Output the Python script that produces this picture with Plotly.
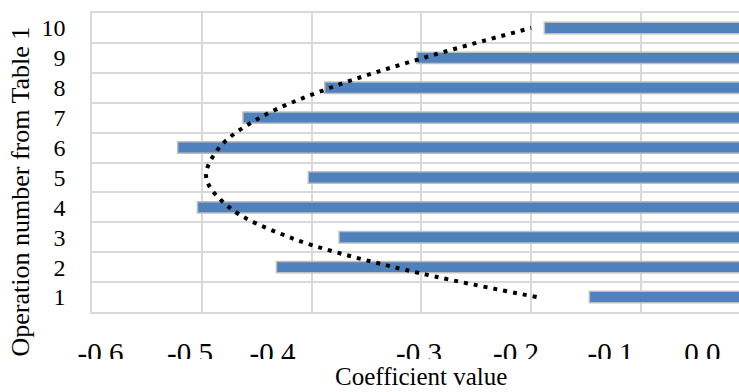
import plotly.graph_objects as go

# ---- data ----
operations = [1, 2, 3, 4, 5, 6, 7, 8, 9, 10]
coef_values = [-0.147, -0.432, -0.375, -0.504, -0.403, -0.522, -0.4625, -0.388, -0.304, -0.188]
trend_values = [-0.195, -0.325, -0.420, -0.475, -0.496, -0.484, -0.447, -0.383, -0.298, -0.200]
x_tick_labels = ["-0.6", "-0.5", "-0.4", "-0.3", "-0.2", "-0.1", "0.0"]
x_title = "Coefficient value"
y_title = "Operation number from Table 1"

# ---- styling / layout ----
FONT = "Liberation Serif, Times New Roman, serif"
GRID = "#d9d9d9"
x_label_pos = [-0.5923, -0.5107, -0.4356, -0.3022, -0.2138, -0.1278, -0.0440]

fig = go.Figure()
fig.add_trace(go.Bar(
    x=coef_values, y=operations, orientation="h", width=0.38,
    marker=dict(color="#4f81bd", line=dict(color="#bfbfbf", width=1.5)),
    showlegend=False,
))
fig.add_trace(go.Scatter(
    x=trend_values, y=operations, mode="lines",
    line=dict(color="black", width=4, dash="4px,6px", shape="spline"),
    showlegend=False,
))

fig.update_layout(
    width=739, height=392,
    margin=dict(l=92, r=0, t=13, b=80),
    paper_bgcolor="white", plot_bgcolor="white",
    font=dict(family=FONT, color="black"),
    xaxis=dict(
        range=[-0.6, -0.0107], showgrid=False, zeroline=False,
        tickmode="array", tickvals=x_label_pos, ticktext=x_tick_labels,
        ticks="", tickfont=dict(size=29, family=FONT), ticklabelstandoff=14,
        showline=True, linecolor=GRID, linewidth=1.5, mirror=True,
        minor=dict(tick0=-0.6, dtick=0.1, showgrid=True, gridcolor=GRID, gridwidth=1.5, ticks=""),
    ),
    yaxis=dict(
        range=[0.5, 10.5], showgrid=False, zeroline=False,
        tickmode="array", tickvals=operations, ticktext=[str(o) for o in operations],
        ticks="", tickfont=dict(size=24, family=FONT), ticklabelstandoff=20,
        showline=True, linecolor=GRID, linewidth=1.5, mirror=False,
        minor=dict(tick0=0.5, dtick=1, showgrid=True, gridcolor=GRID, gridwidth=1.5, ticks=""),
    ),
    shapes=[dict(type="rect", xref="paper", yref="paper", layer="above",
                 x0=-0.15, x1=1.01, y0=-0.157, y1=-0.30,
                 fillcolor="white", line=dict(width=0))],
    annotations=[
        dict(text=x_title, xref="paper", yref="paper", x=(421 - 92) / 647, y=(312 - 391) / 299,
             xanchor="center", yanchor="bottom", showarrow=False, borderpad=0,
             font=dict(size=25, family=FONT, color="black")),
        dict(text=y_title, xref="paper", yref="paper", x=(20 - 92) / 647, y=(312 - 191.5) / 299,
             xanchor="center", yanchor="middle", textangle=-90, showarrow=False,
             font=dict(size=26, family=FONT, color="black")),
    ],
)

fig.write_html("out.html", config={"displayModeBar": False},
               post_script="document.body.style.margin='0';document.body.style.overflow='hidden';")
